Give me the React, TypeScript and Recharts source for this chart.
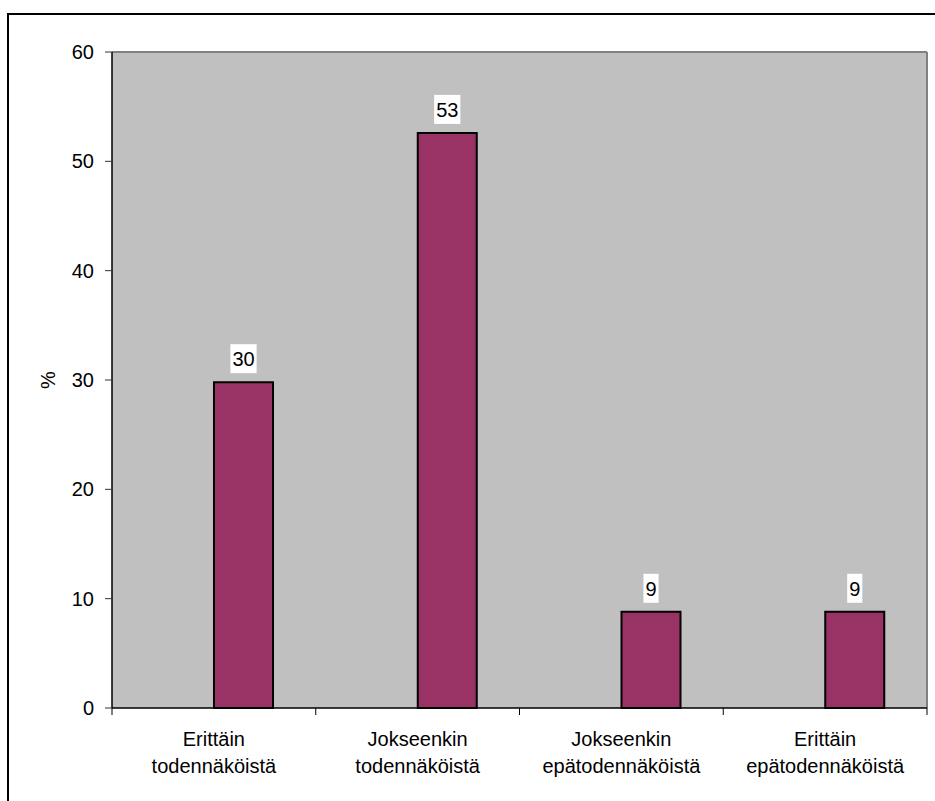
import React from 'react';
import { BarChart, Bar, XAxis, YAxis, CartesianGrid, LabelList } from 'recharts';

const FONT = '"Liberation Sans", Arial, sans-serif';

const categories = [
  'Erittäin todennäköistä',
  'Jokseenkin todennäköistä',
  'Jokseenkin epätodennäköistä',
  'Erittäin epätodennäköistä',
];
const shares = [29.8, 52.6, 8.8, 8.8];
const yTicks = [0, 10, 20, 30, 40, 50, 60];

const data = categories.map((name, i) => ({ name, value: shares[i] }));

// two-line category label plus the small tick marks on the band edges
const CatTick = (props: any) => {
  const { x, y, payload, index, visibleTicksCount, width } = props;
  const [a, b] = String(payload.value).split(' ');
  const half = payload.offset || (width && visibleTicksCount ? width / visibleTicksCount / 2 : 0);
  const last = index === visibleTicksCount - 1;
  return (
    <g>
      <line x1={x - half} x2={x - half} y1={y} y2={y + 7} stroke="#000" strokeWidth={1} />
      {last && <line x1={x + half} x2={x + half} y1={y} y2={y + 7} stroke="#000" strokeWidth={1} />}
      <text x={x} y={y} textAnchor="middle" fontSize={20} fill="#000" fontFamily={FONT}>
        <tspan x={x} dy={38}>{a}</tspan>
        <tspan x={x} dy={27}>{b}</tspan>
      </text>
    </g>
  );
};

const ValueLabel = (props: any) => {
  const { x, y, width, value } = props;
  const txt = String(Math.round(Number(value)));
  const cx = Number(x) + Number(width) / 2;
  const w = txt.length * 11.1 + 4;
  return (
    <g>
      <rect x={cx - w / 2} y={Number(y) - 38} width={w} height={29} fill="#fff" />
      <text x={cx} y={Number(y) - 16} textAnchor="middle" fontSize={20} fontFamily={FONT} fill="#000">
        {txt}
      </text>
    </g>
  );
};

const PctLabel = (props: any) => {
  const vb = props.viewBox || { x: 0, y: 52, width: 112, height: 656 };
  const cx = vb.x + 48;
  const cy = vb.y + vb.height / 2;
  return (
    <text x={cx} y={cy} transform={`rotate(-90 ${cx} ${cy})`} textAnchor="middle" dominantBaseline="central"
      fontSize={20} fontFamily={FONT} fill="#000">
      %
    </text>
  );
};

export default function App() {
  return (
    <div style={{ position: 'fixed', left: 0, top: 0, width: 935, height: 801, background: '#fff', overflow: 'hidden' }}>
      <div style={{ position: 'absolute', left: 7, top: 13, width: 960, height: 820, borderLeft: '2px solid #000', borderTop: '2px solid #000' }} />
      <div style={{ position: 'absolute', left: 0, top: 0 }}>
        <BarChart width={935} height={801} data={data} barGap={0} margin={{ top: 52, right: 8, bottom: 0, left: 0 }}>
          {/* grey plot area with the grey top and right frame lines */}
          <CartesianGrid
            fill="#C0C0C0"
            stroke="#808080"
            strokeWidth={2}
            horizontalCoordinatesGenerator={({ offset }: any) => [offset.top]}
            verticalCoordinatesGenerator={({ offset }: any) => [offset.left + offset.width]}
          />
          <XAxis
            dataKey="name"
            height={93}
            interval={0}
            tickLine={false}
            tickSize={0}
            tickMargin={0}
            axisLine={{ stroke: '#000', strokeWidth: 1.5 }}
            tick={<CatTick />}
          />
          <YAxis
            width={112}
            domain={[0, 60]}
            ticks={yTicks}
            tickSize={7}
            tickMargin={11}
            axisLine={{ stroke: '#000', strokeWidth: 1.5 }}
            tickLine={{ stroke: '#333' }}
            tick={{ fontSize: 20, fill: '#000', fontFamily: FONT }}
            label={<PctLabel />}
          />
          {/* empty first series keeps the bars right of the category centre, as in the original */}
          <Bar dataKey="empty" barSize={59} isAnimationActive={false} />
          <Bar dataKey="value" fill="#993366" stroke="#000" strokeWidth={2} barSize={59} isAnimationActive={false}>
            <LabelList dataKey="value" content={<ValueLabel />} />
          </Bar>
        </BarChart>
      </div>
    </div>
  );
}
